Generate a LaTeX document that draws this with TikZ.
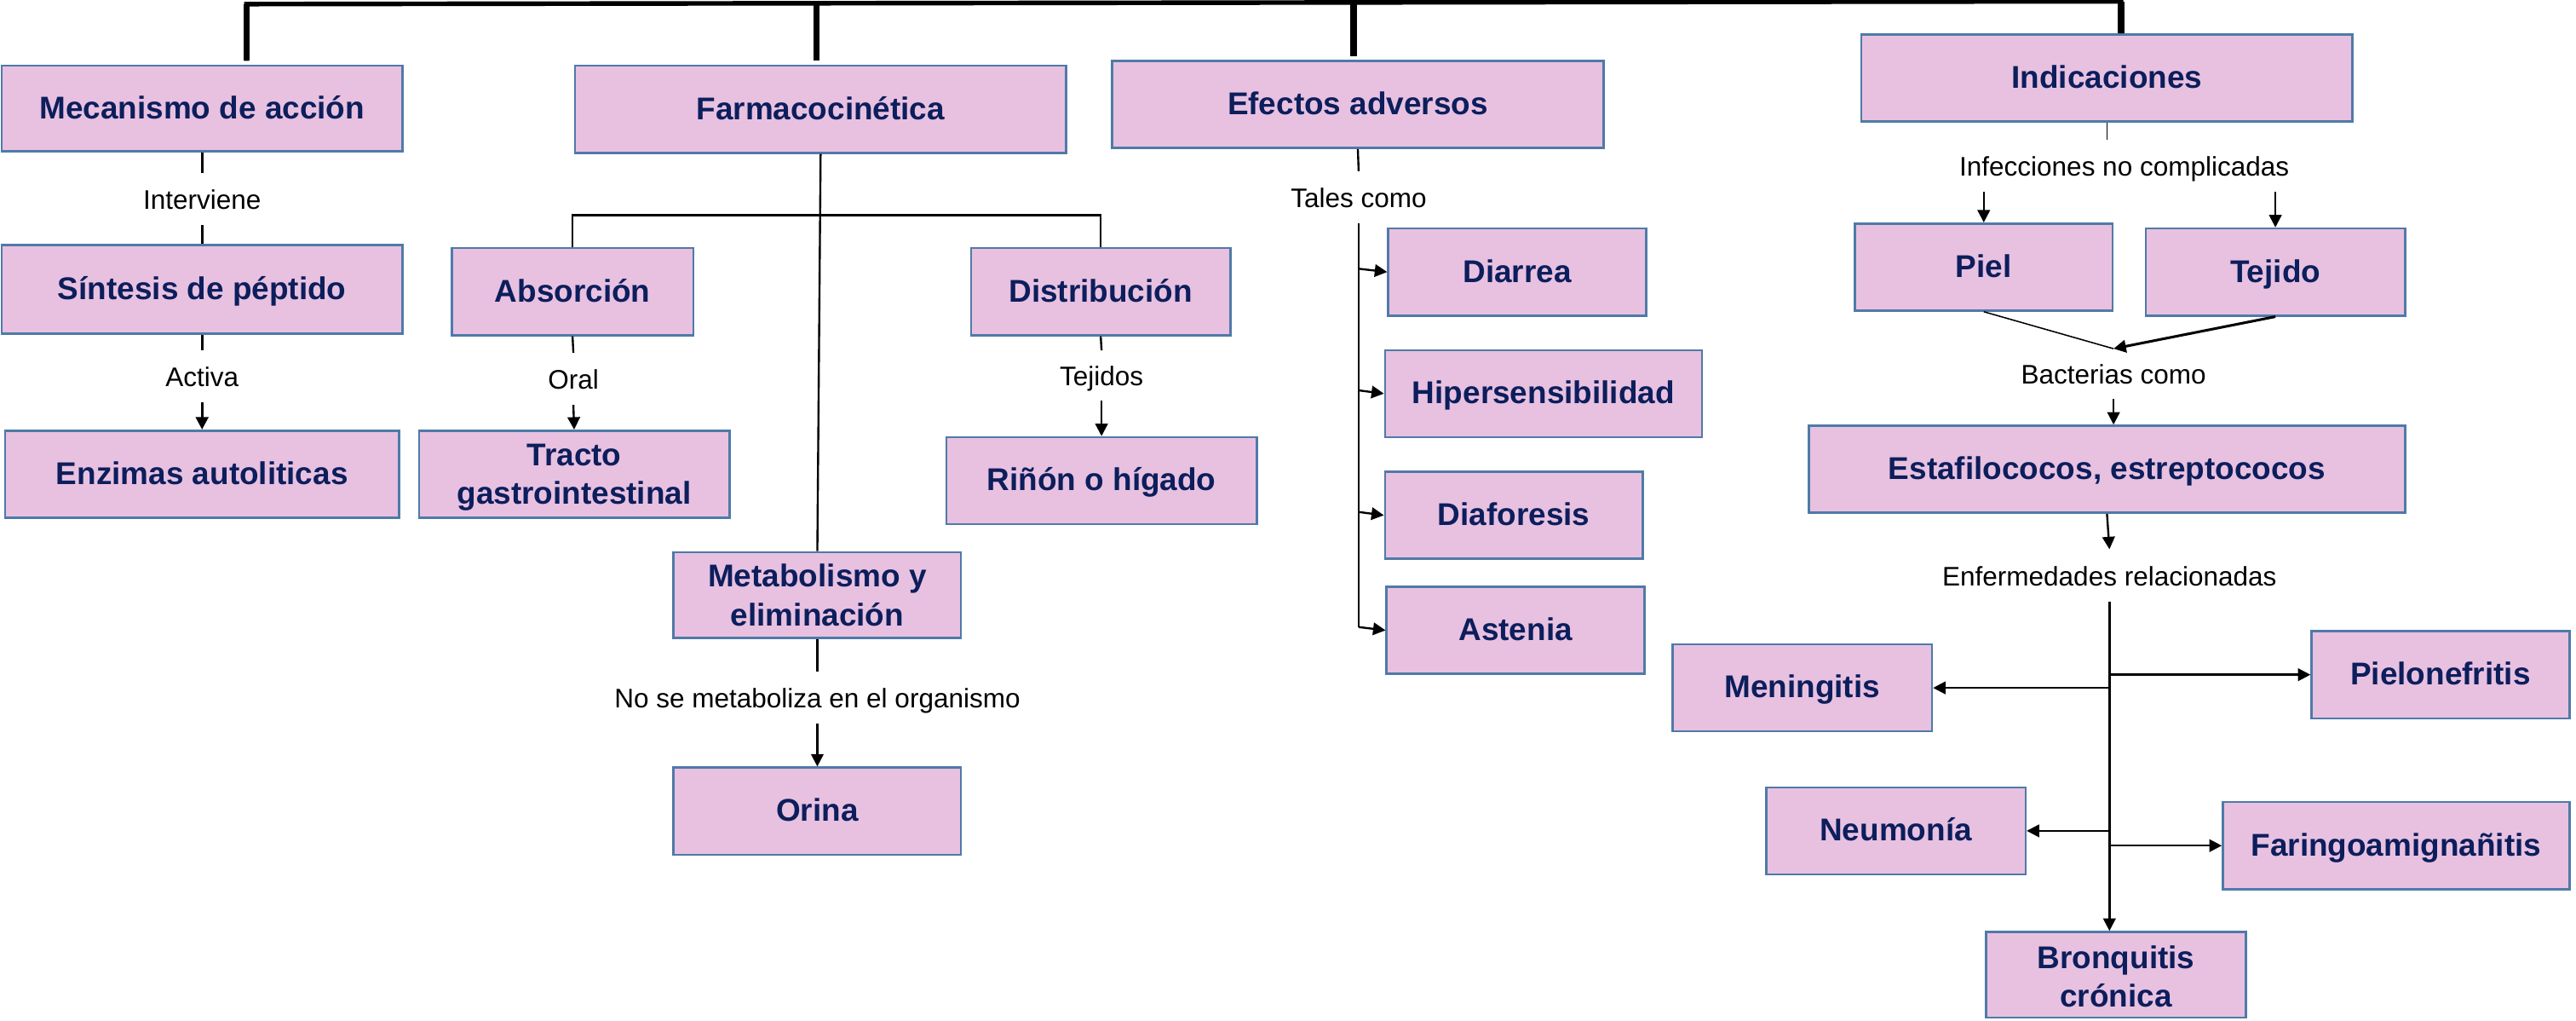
\documentclass[tikz,border=0pt]{standalone}
\usepackage{fontspec}
\setmainfont{Liberation Sans}
\usetikzlibrary{arrows.meta,calc}
\definecolor{boxfill}{RGB}{232,193,224}
\definecolor{boxline}{RGB}{79,122,168}
\definecolor{navy}{RGB}{12,30,92}
\begin{document}
\begin{tikzpicture}[x=0.02cm,y=-0.02cm,
  box/.style={draw=boxline, fill=boxfill, line width=0.75pt, text=navy,
    font=\fontsize{10.9}{13.4}\selectfont\bfseries, align=center, inner sep=0pt},
  box1/.style={box, text height=0.7em, text depth=0pt},
  lbl/.style={font=\fontsize{9.3}{11}\selectfont, inner sep=0pt, text=black,
    minimum height=0.62cm, text height=0.72em, text depth=0pt},
  ln/.style={line width=0.7pt},
  lnb/.style={line width=0.9pt},
  lnt/.style={line width=0.45pt},
  arr/.style={line width=0.7pt, -{Triangle[length=4.3pt,width=4.3pt]}},
  arrb/.style={line width=0.9pt, -{Triangle[length=4.3pt,width=4.3pt]}},
  bar/.style={line width=1.6pt, line join=miter},
  vbar/.style={line width=2.2pt},
]
\useasboundingbox (0,0) rectangle (1568,621);
\fill[white] (0,0) rectangle (1568,621);

% boxes
\node[box1, minimum width=4.88cm, minimum height=1.04cm] (mec) at (123,66) {Mecanismo de acción};
\node[box1, minimum width=4.88cm, minimum height=1.08cm] (sin) at (123,176) {Síntesis de péptido};
\node[box1, minimum width=4.80cm, minimum height=1.06cm] (enz) at (123,288.5) {Enzimas autoliticas};
\node[box1, minimum width=5.98cm, minimum height=1.06cm] (far) at (499.5,66.5) {Farmacocinética};
\node[box1, minimum width=2.94cm, minimum height=1.06cm] (abs) at (348.5,177.5) {Absorción};
\node[box, minimum width=3.78cm, minimum height=1.06cm] (tra) at (349.5,288.5) {\rule{0pt}{0.9em}Tracto\\gastrointestinal};
\node[box1, minimum width=3.16cm, minimum height=1.06cm] (dis) at (670,177.5) {Distribución};
\node[box1, minimum width=3.78cm, minimum height=1.06cm] (rin) at (670.5,292.5) {Riñón o hígado};
\node[box, minimum width=3.50cm, minimum height=1.04cm] (met) at (497.5,362) {Metabolismo y\\eliminación};
\node[box1, minimum width=3.50cm, minimum height=1.06cm] (ori) at (497.5,493.5) {Orina};
\node[box1, minimum width=5.98cm, minimum height=1.06cm] (efe) at (826.5,63.5) {Efectos adversos};
\node[box1, minimum width=3.14cm, minimum height=1.06cm] (dia) at (923.5,165.5) {Diarrea};
\node[box1, minimum width=3.86cm, minimum height=1.06cm] (hip) at (939.5,239.5) {Hipersensibilidad};
\node[box1, minimum width=3.14cm, minimum height=1.06cm] (daf) at (921.5,313.5) {Diaforesis};
\node[box1, minimum width=3.14cm, minimum height=1.06cm] (ast) at (922.5,383.5) {Astenia};
\node[box1, minimum width=5.98cm, minimum height=1.06cm] (ind) at (1282.5,47.5) {Indicaciones};
\node[box1, minimum width=3.14cm, minimum height=1.06cm] (pie) at (1207.5,162.5) {Piel};
\node[box1, minimum width=3.16cm, minimum height=1.06cm] (tej) at (1385,165.5) {Tejido};
\node[box1, minimum width=7.26cm, minimum height=1.06cm] (est) at (1282.5,285.5) {Estafilococos, estreptococos};
\node[box1, minimum width=3.16cm, minimum height=1.06cm] (men) at (1097,418.5) {Meningitis};
\node[box1, minimum width=3.14cm, minimum height=1.06cm] (pin) at (1485.5,410.5) {Pielonefritis};
\node[box1, minimum width=3.16cm, minimum height=1.06cm] (neu) at (1154,505.5) {Neumonía};
\node[box1, minimum width=4.22cm, minimum height=1.06cm] (fa2) at (1458.5,514.5) {Faringoamignañitis};
\node[box, minimum width=3.16cm, minimum height=1.04cm] (bro) at (1288,593) {\rule{0pt}{0.85em}Bronquitis\\crónica};

% labels
\node[lbl] (int) at (123,121) {Interviene};
\node[lbl] (act) at (123,229) {Activa};
\node[lbl] (ora) at (349,230.5) {Oral};
\node[lbl, minimum height=0.60cm] (tjd) at (670.5,228.5) {Tejidos};
\node[lbl] (tal) at (827,120) {Tales como};
\node[lbl] (nom) at (497.5,424.5) {No se metaboliza en el organismo};
\node[lbl] (inf) at (1293,101) {Infecciones no complicadas};
\node[lbl, minimum height=0.60cm] (bac) at (1286.5,227.5) {Bacterias como};
\node[lbl] (enf) at (1284,350) {Enfermedades relacionadas};

% top bar
\coordinate (tl) at (150,2.5);
\coordinate (tr) at (1291,0.8);
\coordinate (v1) at (150,37);
\coordinate (v2) at (497,37);
\coordinate (v3) at (824,34);
\coordinate (v2t) at (497,2);
\coordinate (v3t) at (824,1.5);
\draw[bar] (v1) -- (tl) -- (tr) -- (tr |- ind.north);
\draw[vbar] (v1) -- (tl);
\draw[vbar] (v2) -- (v2t);
\draw[vbar] (v3) -- (v3t);
\draw[vbar] (ind.north -| tr) -- (tr);

% Mecanismo
\draw[lnb] (mec.south) -- (int.north);
\draw[lnb] (int.south) -- (sin.north);
\draw[lnb] (sin.south) -- (act.north);
\draw[arrb] (act.south) -- (enz.north);

% Farmacocinetica
\coordinate (fb) at (499,131);
\draw[ln] (far.south) -- (met.north);
\draw[ln] (abs.north) |- (fb) -| (dis.north);
\draw[ln] (abs.south) -- (ora.north);
\draw[arr] (ora.south) -- (tra.north);
\draw[ln] (dis.south) -- (tjd.north);
\draw[arr] (tjd.south) -- (rin.north);
\draw[ln] (met.south) -- (nom.north);
\draw[arr] (nom.south) -- (ori.north);

% Efectos adversos
\coordinate (tb) at (827,381.5);
\draw[ln] (efe.south) -- (tal.north);
\draw[ln] (tal.south) -- (tb);
\foreach \b in {dia,hip,daf} {
  \draw[arr] ($(tal.south |- \b.west)+(0,-2)$) -- (\b.west);
}
\draw[arr] (tb) -- (ast.west);

% Indicaciones
\draw[lnt] (ind.south) -- (ind.south |- inf.north);
\draw[arr] (inf.south -| pie.north) -- (pie.north);
\draw[arr] (inf.south -| tej.north) -- (tej.north);
\draw[lnt] (pie.south) -- (bac.north);
\draw[arrb] (tej.south) -- (bac.north);
\draw[arr] (bac.south) -- (bac.south |- est.north);
\draw[arr] (est.south) -- (enf.north);
\draw[arr] (enf.south) -- (enf.south |- bro.north);
\draw[arr] (enf.south |- men.east) -- (men.east);
\draw[arr] (enf.south |- pin.west) -- (pin.west);
\draw[arr] (enf.south |- neu.east) -- (neu.east);
\draw[arr] (enf.south |- fa2.west) -- (fa2.west);
\end{tikzpicture}
\end{document}
